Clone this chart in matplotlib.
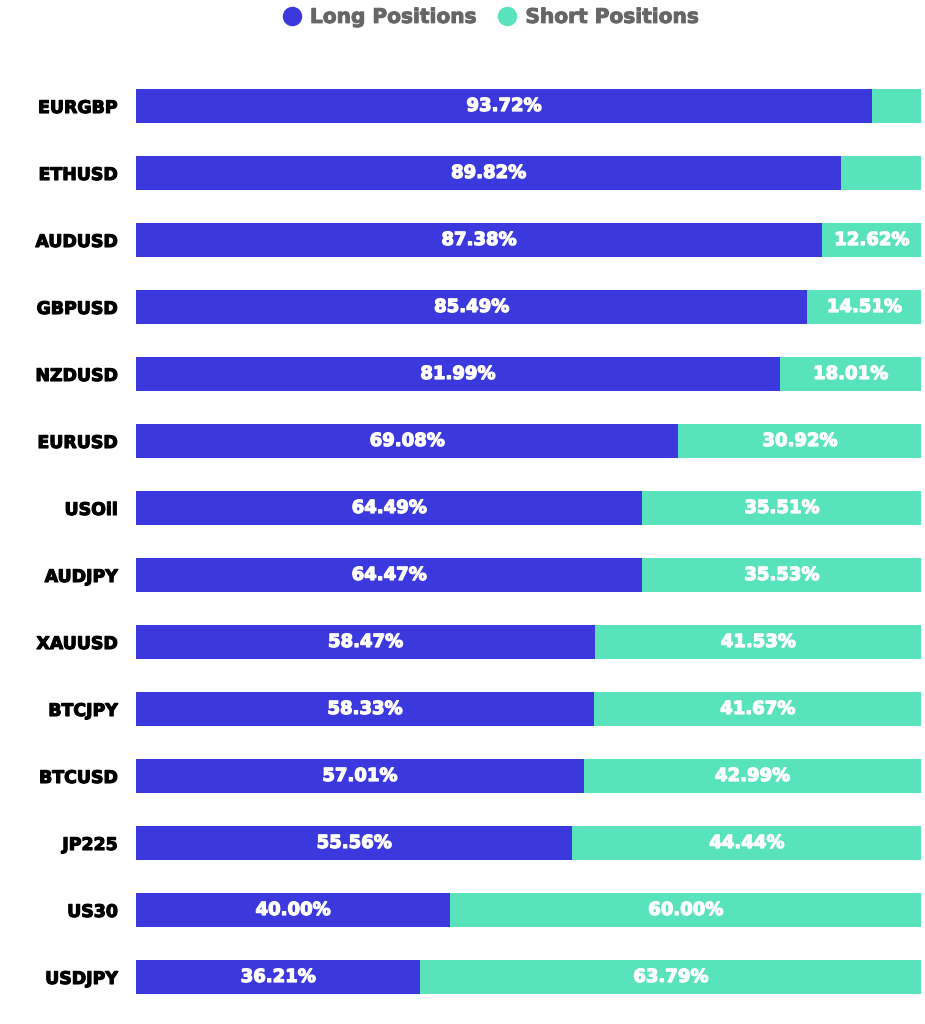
import numpy as np
import matplotlib.pyplot as plt
import matplotlib.patheffects as pe
from matplotlib.lines import Line2D

symbols = ['EURGBP', 'ETHUSD', 'AUDUSD', 'GBPUSD', 'NZDUSD', 'EURUSD', 'USOil',
           'AUDJPY', 'XAUUSD', 'BTCJPY', 'BTCUSD', 'JP225', 'US30', 'USDJPY']
long_pct = [93.72, 89.82, 87.38, 85.49, 81.99, 69.08, 64.49,
            64.47, 58.47, 58.33, 57.01, 55.56, 40.00, 36.21]
short_pct = [6.28, 10.18, 12.62, 14.51, 18.01, 30.92, 35.51,
             35.53, 41.53, 41.67, 42.99, 44.44, 60.00, 63.79]

LONG_COLOR = '#3b38de'
SHORT_COLOR = '#58e3bc'

fig = plt.figure(figsize=(9.25, 10.24), dpi=100)
ax = fig.add_axes([0.147, 0.0132, 0.849, 0.916])

y = np.arange(len(symbols))
ax.barh(y, long_pct, height=0.5, color=LONG_COLOR)
ax.barh(y, short_pct, left=long_pct, height=0.5, color=SHORT_COLOR)

# heavier look, like the original web font
white_fx = [pe.withStroke(linewidth=0.9, foreground='white')]
for i in range(len(symbols)):
    ax.text(long_pct[i] / 2, y[i], '%.2f%%' % long_pct[i], ha='center', va='center',
            color='white', fontsize=13, fontweight='bold', path_effects=white_fx)
    # short labels are hidden when the segment is too small
    if short_pct[i] >= 12:
        ax.text(long_pct[i] + short_pct[i] / 2, y[i], '%.2f%%' % short_pct[i],
                ha='center', va='center', color='white', fontsize=13, fontweight='bold',
                path_effects=white_fx)

ax.set_xlim(0, 100)
ax.set_ylim(len(symbols) - 0.5, -0.5)
ax.set_yticks(y)
ax.set_yticklabels(symbols, fontsize=12.5, fontweight='bold',
                   path_effects=[pe.withStroke(linewidth=0.8, foreground='black')])
ax.tick_params(axis='y', length=0, pad=13)
ax.set_xticks([])
for s in ax.spines.values():
    s.set_visible(False)

handles = [Line2D([], [], marker='o', linestyle='', markersize=13, color=LONG_COLOR),
           Line2D([], [], marker='o', linestyle='', markersize=13, color=SHORT_COLOR)]
leg = fig.legend(handles, ['Long Positions', 'Short Positions'], loc='center',
                 bbox_to_anchor=(0.525, 0.983), ncol=2, frameon=False, handletextpad=-0.1,
                 columnspacing=0.5, prop={'weight': 'bold', 'size': 14.5}, labelcolor='#666666')
for t in leg.get_texts():
    t.set_path_effects([pe.withStroke(linewidth=0.7, foreground='#666666')])

fig.savefig('out.png', dpi=100)
